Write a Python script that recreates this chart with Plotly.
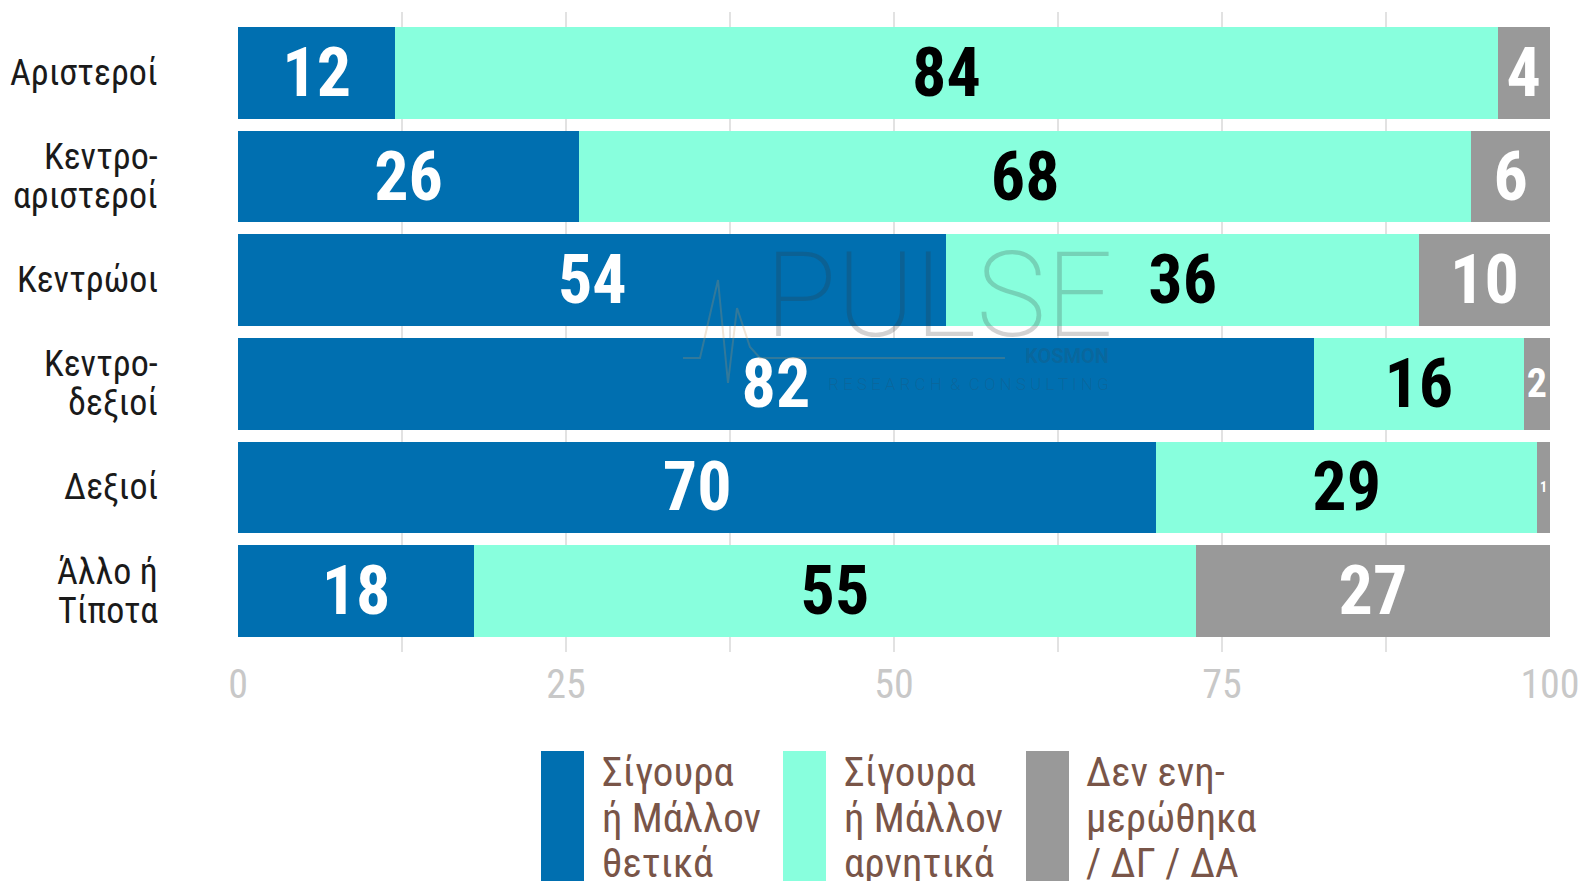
import plotly.graph_objects as go

categories = ["Αριστεροί", "Κεντρο-αριστεροί", "Κεντρώοι", "Κεντρο-δεξιοί", "Δεξιοί", "Άλλο ή Τίποτα"]
category_lines = [["Αριστεροί"], ["Κεντρο-", "αριστεροί"], ["Κεντρώοι"], ["Κεντρο-", "δεξιοί"], ["Δεξιοί"], ["Άλλο ή", "Τίποτα"]]
positive = [12, 26, 54, 82, 70, 18]
negative = [84, 68, 36, 16, 29, 55]
dont_know = [4, 6, 10, 2, 1, 27]
series_names = [["Σίγουρα", "ή Μάλλον", "θετικά"],
                ["Σίγουρα", "ή Μάλλον", "αρνητικά"],
                ["Δεν ενη-", "μερώθηκα", "/ ΔΓ / ΔΑ"]]
x_ticks = [0, 25, 50, 75, 100]

colors = ["#006FB0", "#88FFDD", "#999999"]
text_colors = ["#FFFFFF", "#000000", "#FFFFFF"]

W, H = 1583, 881
L, R, T, B = 238, 1550, 12, 652  # plot area in page pixels
COND = "Liberation Sans Narrow, Roboto Condensed, Arial Narrow, sans-serif"


def pxx(p):
    return (p - L) / (R - L)


def pxy(p):
    return (B - p) / (B - T)


fig = go.Figure()
for vals, name, col, tcol in zip([positive, negative, dont_know], series_names, colors, text_colors):
    fig.add_trace(go.Bar(
        y=categories, x=vals, orientation="h", name=" ".join(name),
        marker=dict(color=col, line=dict(width=0)),
        text=vals, texttemplate="%{text}", textposition="inside",
        insidetextanchor="middle",
        textfont=dict(family=COND, size=68, color=tcol, weight="bold"),
        showlegend=False,
    ))

annotations = []
# category labels
for cat, lines in zip(categories, category_lines):
    n = len(lines)
    for i, ln in enumerate(lines):
        shift = (n - 1) * 19.5 - i * 39
        annotations.append(dict(
            x=pxx(160), xref="paper", y=cat, yref="y", yshift=shift,
            text=ln, showarrow=False, xanchor="right", yanchor="middle",
            font=dict(family=COND, size=36, color="#1a1a1a"),
        ))

# legend (manual)
sw_x = [541, 783, 1026]
tx_x = [600, 842, 1084]
line_y = [772, 818, 863]
shapes = []
for name, col, sx, tx in zip(series_names, colors, sw_x, tx_x):
    shapes.append(dict(type="rect", xref="paper", yref="paper",
                       x0=pxx(sx), x1=pxx(sx + 43), y0=pxy(751), y1=pxy(900),
                       fillcolor=col, line=dict(width=0), layer="above"))
    for ln, ly in zip(name, line_y):
        annotations.append(dict(
            x=pxx(tx), xref="paper", y=pxy(ly), yref="paper", text=ln,
            showarrow=False, xanchor="left", yanchor="middle",
            font=dict(family=COND, size=41, color="#795548"),
        ))

# watermark
annotations += [
    dict(x=pxx(939), y=pxy(296), xref="paper", yref="paper", text="PULSE", showarrow=False,
         font=dict(family="Roboto, sans-serif", size=118, color="rgba(50,50,50,0.22)", weight=200)),
    dict(x=pxx(1111), y=pxy(356), xref="paper", yref="paper", text="KOSMON", showarrow=False,
         xanchor="right", font=dict(family="Roboto, sans-serif", size=20, color="rgba(60,60,60,0.18)", weight="bold")),
    dict(x=pxx(1111), y=pxy(384), xref="paper", yref="paper",
         text="R E S E A R C H  &  C O N S U L T I N G", showarrow=False, xanchor="right",
         font=dict(family="Roboto, sans-serif", size=17, color="rgba(60,60,60,0.18)", weight=300)),
]
wave = [(683, 358), (700, 358), (718, 280), (728, 383), (737, 308), (750, 347), (760, 358), (1005, 358)]
path = "M " + " L ".join(f"{pxx(a):.5f},{pxy(b):.5f}" for a, b in wave)
shapes.append(dict(type="path", xref="paper", yref="paper", path=path,
                   line=dict(color="rgba(200,150,90,0.25)", width=2), layer="above"))

fig.update_layout(
    width=W, height=H, autosize=False,
    margin=dict(l=L, r=W - R, t=T, b=H - B, autoexpand=False),
    barmode="stack", bargap=0.118,
    plot_bgcolor="white", paper_bgcolor="white",
    annotations=annotations, shapes=shapes,
    xaxis=dict(range=[0, 100], tickvals=x_ticks, showgrid=True, gridcolor="#e2e2e2", gridwidth=2,
               minor=dict(tick0=0, dtick=12.5, showgrid=True, gridcolor="#e2e2e2", gridwidth=2),
               zeroline=False, showline=False, ticks="", automargin=False,
               tickfont=dict(family=COND, size=40, color="#c8c8c8"), ticklabelstandoff=5,
               fixedrange=True),
    yaxis=dict(categoryorder="array", categoryarray=categories, automargin=False,
               range=[5.587, -0.587], showticklabels=False, showgrid=False,
               zeroline=False, showline=False, fixedrange=True),
)

fig.write_html("out.html", config={"displayModeBar": False},
               post_script="document.body.style.margin='0';document.body.style.overflow='hidden';")
